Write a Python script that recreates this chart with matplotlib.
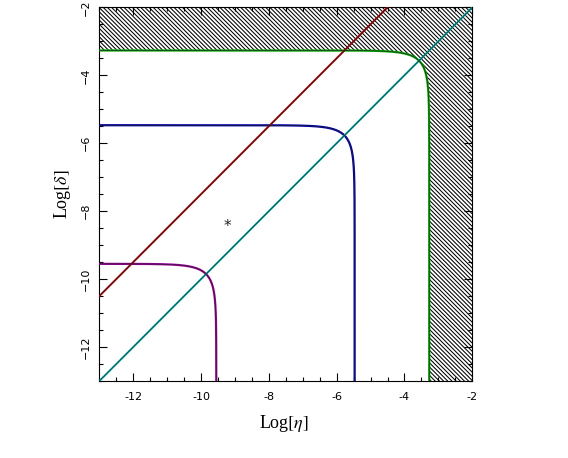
import numpy as np
import matplotlib
matplotlib.use("Agg")
import matplotlib.pyplot as plt
from matplotlib.ticker import MultipleLocator

# data
curve_levels = [-3.27, -5.47, -9.55]          # log(eta + delta) = level
curve_colors = ["#00aa00", "#0000aa", "#990099"]
diag_offsets = [0.0, 2.5]                      # log(delta) = log(eta) + offset
diag_colors = ["#00aaaa", "#aa0000"]
star_point = (-9.22, -8.45)
xticks = [-12, -10, -8, -6, -4, -2]
yticks = [-12, -10, -8, -6, -4, -2]
xlim = (-13, -2)
ylim = (-13, -2)

plt.rcParams["hatch.linewidth"] = 0.75
plt.rcParams["mathtext.fontset"] = "stix"

fig = plt.figure(figsize=(5.68, 4.58), dpi=100)
ax = fig.add_axes([0.1748, 0.168, 0.6567, 0.816])


def curve(c, lo=-14.0):
    mid = c - np.log10(2.0)
    xa = np.linspace(lo, mid, 3000)
    ya = c + np.log10(1 - 10 ** (xa - c))
    # vertical branch by symmetry
    x = np.concatenate([xa, ya[::-1]])
    y = np.concatenate([ya, xa[::-1]])
    return x, y


# hatched excluded region beyond the outer curve
cx, cy = curve(curve_levels[0])
px = np.concatenate([cx, [-1, -1, -14]])
py = np.concatenate([cy, [-14, -1, -1]])
ax.fill(px, py, facecolor="none", edgecolor="black", hatch="\\" * 8, linewidth=0, zorder=1)

for c, col in zip(curve_levels, curve_colors):
    x, y = curve(c)
    ax.plot(x, y, color=col, lw=1.6, zorder=3)
    ax.plot(x, y, color="#222222", lw=0.45, zorder=4)

for off, col in zip(diag_offsets, diag_colors):
    xx = np.array([-14.0, -1.0])
    ax.plot(xx, xx + off, color=col, lw=1.4, zorder=3)
    ax.plot(xx, xx + off, color="#222222", lw=0.4, zorder=4)

ax.text(star_point[0], star_point[1], "*", ha="center", va="center", fontsize=11, color="#222222")

ax.set_xlim(*xlim)
ax.set_ylim(*ylim)
ax.set_xticks(xticks)
ax.set_yticks(yticks)
ax.set_xticklabels([str(t) for t in xticks], fontsize=8)
ax.set_yticklabels(["\u2212%d" % abs(t) for t in yticks], fontsize=8, rotation=90, va="center")
ax.xaxis.set_minor_locator(MultipleLocator(0.5))
ax.yaxis.set_minor_locator(MultipleLocator(0.5))
ax.tick_params(which="both", direction="in", top=True, right=True)
ax.tick_params(which="major", length=6, width=0.8)
ax.tick_params(which="minor", length=3, width=0.8)
ax.tick_params(axis="x", which="major", pad=8)
ax.tick_params(axis="y", which="major", pad=6)
for s in ax.spines.values():
    s.set_linewidth(0.8)

ax.set_xlabel(r"Log$[\eta]$", fontsize=13, family="Liberation Serif")
ax.set_ylabel(r"Log$[\delta]$", fontsize=13, family="Liberation Serif")
ax.xaxis.set_label_coords(0.495, -0.085)
ax.yaxis.set_label_coords(-0.07, 0.5)

fig.savefig("out.png", dpi=100)
